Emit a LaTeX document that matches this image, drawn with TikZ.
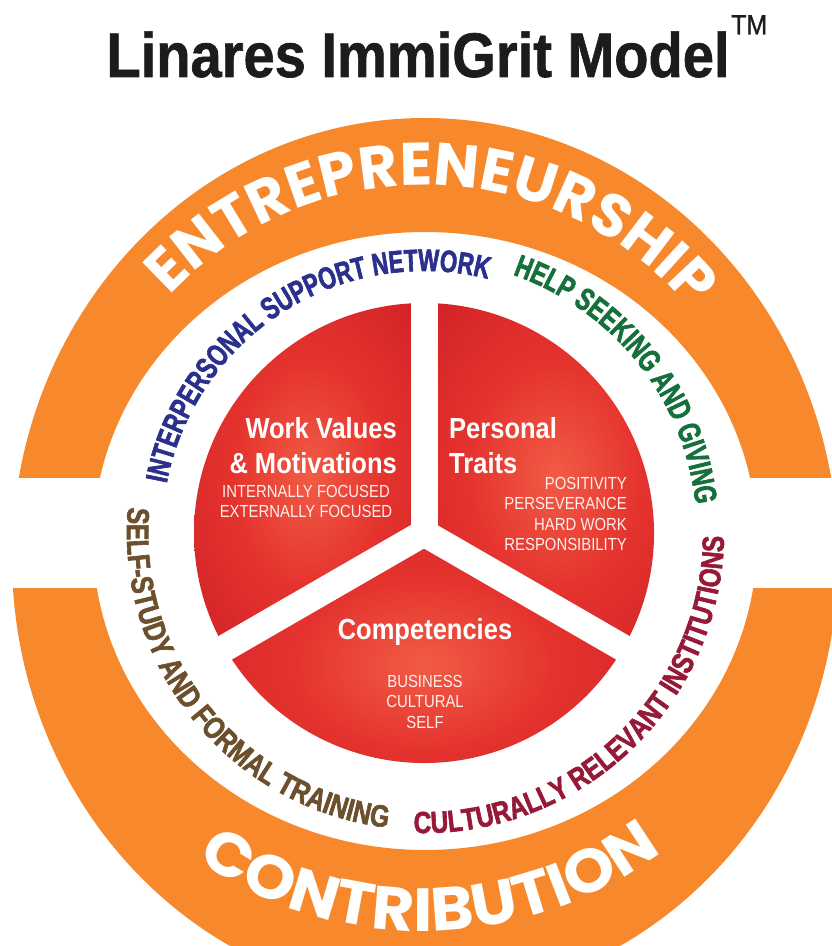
\documentclass[tikz,border=0pt]{standalone}
\usepackage{fontspec}
\setmainfont{Liberation Sans}
\newfontfamily\titlefam{Liberation Sans}[FakeStretch=0.89, FakeBold=1]
\newfontfamily\arcfam{Liberation Sans}[FakeStretch=0.72, FakeBold=2]
\newfontfamily\arcwidefam{Liberation Sans}[FakeStretch=0.80, FakeBold=2]
\newfontfamily\bandfam{Poppins}
\newfontfamily\bandwidefam{Poppins}[FakeStretch=1.07]
\newfontfamily\piefam{Liberation Sans}[FakeStretch=0.88]
\newfontfamily\listfam{Liberation Sans}[FakeStretch=0.85]
\usetikzlibrary{decorations.text,calc}

\definecolor{ringorange}{RGB}{247,136,44}
\definecolor{redlite}{RGB}{241,92,70}
\definecolor{redmid}{RGB}{229,52,46}
\definecolor{reddark}{RGB}{206,30,38}
\definecolor{netblue}{RGB}{43,48,140}
\definecolor{helpgreen}{RGB}{22,112,60}
\definecolor{studybrown}{RGB}{108,80,46}
\definecolor{instred}{RGB}{150,26,56}
\definecolor{titleblack}{RGB}{28,28,28}

\pgfdeclareradialshading{sectorglow}{\pgfpoint{0bp}{0bp}}{%
  color(0bp)=(redlite); color(16bp)=(redmid);
  color(38bp)=(reddark); color(50bp)=(reddark)}

\newcommand\netfont{\arcfam\bfseries\fontsize{31}{31}\selectfont}
\newcommand\helpfont{\arcfam\bfseries\fontsize{31.5}{31.5}\selectfont}
\newcommand\studyfont{\arcwidefam\bfseries\fontsize{31}{31}\selectfont}
\newcommand\instfont{\arcwidefam\bfseries\fontsize{30.5}{30.5}\selectfont}
\newcommand\bandfont{\bandfam\bfseries\fontsize{60}{60}\selectfont}
\newcommand\contribfont{\bandwidefam\bfseries\fontsize{61}{61}\selectfont}

\begin{document}
\begin{tikzpicture}[
  x=1pt, y=1pt,
  arctext/.style  = {decorate, decoration={text along path,
                     text align=center, text color=#1}},
  sector/.style   = {shading=sectorglow},
  gapline/.style  = {white, line width=27pt, line cap=butt},
  headtext/.style = {font=\piefam\bfseries\fontsize{29}{35}\selectfont,
                     text=white, inner sep=0pt},
  listtext/.style = {font=\listfam\fontsize{17.5}{20.3}\selectfont,
                     text=white!90!redlite, inner sep=0pt},
]
\clip (0,0) rectangle (832,946);
\coordinate (ctr) at (424,413);

%% outer orange band, cut open left and right
\fill[ringorange, even odd rule]
  (425,388) ellipse[x radius=413, y radius=440]
  (425,405) ellipse[x radius=332, y radius=309];
\fill[white] (-5,358) rectangle (112,468);
\fill[white] (738,358) rectangle (840,468);

%% three pie sectors
\shade[sector] (ctr) -- ++(90:230) arc[start angle=90, end angle=210, radius=230] -- cycle;
\shade[sector] (ctr) -- ++(-30:230) arc[start angle=-30, end angle=90, radius=230] -- cycle;
\shade[sector] (ctr) -- ++(210:230) arc[start angle=210, end angle=330, radius=230] -- cycle;
\foreach \a in {90,210,330}
  \draw[gapline] (ctr) -- ++(\a:245);

%% lettering on the orange band
\path[arctext=white, decoration={text={|\bandfont|ENTREPRENEURSHIP}}]
  ($(ctr)+(168.5:348)$) arc[start angle=168.5, end angle=8.5, radius=348];
\path[arctext=white, decoration={text={|\contribfont|CONTRIBUTION}}]
  ($(ctr)+(201:398)$) arc[start angle=201, end angle=341, radius=398];

%% lettering on the white ring
\path[arctext=netblue, decoration={text={|\netfont|INTERPERSONAL SUPPORT NETWORK}}]
  ($(ctr)+(182.5:262)$) arc[start angle=182.5, end angle=62.5, radius=262];
\path[arctext=helpgreen, decoration={text={|\helpfont|HELP SEEKING AND GIVING}}]
  ($(ctr)+(98.5:273)$) arc[start angle=98.5, end angle=-21.5, radius=273];
\path[arctext=studybrown, decoration={text={|\studyfont|SELF-STUDY AND FORMAL TRAINING}}]
  ($(ctr)+(159:297)$) arc[start angle=159, end angle=279, radius=297];
\path[arctext=instred, decoration={text={|\instfont|CULTURALLY RELEVANT INSTITUTIONS}}]
  ($(ctr)+(253.7:300)$) arc[start angle=253.7, end angle=373.7, radius=300];

%% sector labels
\node[headtext, align=right, anchor=north east] (workhead) at (397,529)
  {Work Values\\\& Motivations};
\node[listtext, align=center, anchor=north] (worklist) at (306,461)
  {INTERNALLY FOCUSED\\EXTERNALLY FOCUSED};

\node[headtext, align=left, anchor=north west] (traithead) at (449,529)
  {Personal\\Traits};
\node[listtext, align=right, anchor=north east] (traitlist) at (627,469)
  {POSITIVITY\\PERSEVERANCE\\HARD WORK\\RESPONSIBILITY};

\node[headtext, anchor=north] (comphead) at (425,328) {Competencies};
\node[listtext, align=center, anchor=north] (complist) at (425,271)
  {BUSINESS\\CULTURAL\\SELF};

%% title
\node[font=\titlefam\bfseries\fontsize{63}{63}\selectfont, text=titleblack,
      anchor=base, inner sep=0pt] (title) at (418,869) {Linares ImmiGrit Model};
\node[font=\titlefam\fontsize{28}{28}\selectfont, text=titleblack,
      anchor=north west, inner sep=0pt] (tm) at (731,931) {TM};
\end{tikzpicture}
\end{document}
